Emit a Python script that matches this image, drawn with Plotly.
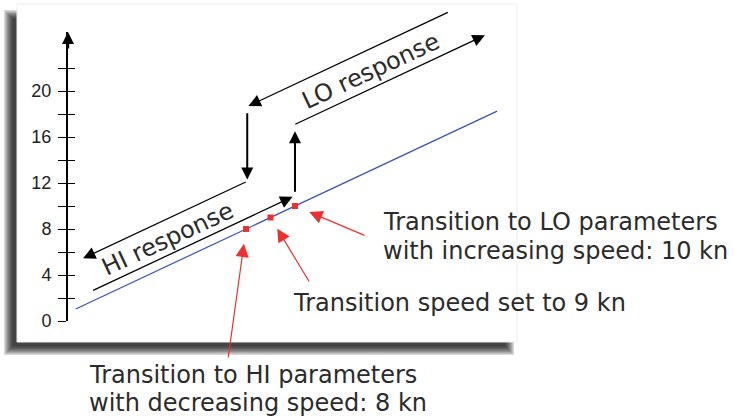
import plotly.graph_objects as go

# axis ticks (every 2, labelled every 4)
tick_vals = [0, 2, 4, 6, 8, 10, 12, 14, 16, 18, 20, 22]
tick_text = ["0", "", "4", "", "8", "", "12", "", "16", "", "20", ""]

# speed line (set speed = actual speed)
line_x = [1.05, 18.25]
line_y = [1.05, 18.25]

# transition points
trans_x = [8, 9, 10]
trans_y = [8, 9, 10]

# hysteresis arrows: (tail_x, tail_y, tip_x, tip_y)
diag_arrows = [
    (8.05, 12.15, 1.35, 5.45),    # HI response, decreasing
    (1.7, 2.6, 9.9, 10.8),        # HI response, increasing
    (16.3, 26.9, 8.1, 18.7),      # LO response, decreasing
    (9.95, 17.05, 17.75, 24.85),  # LO response, increasing
]
vert_arrows = [
    (8.05, 18.2, 8.05, 12.3),
    (10.0, 11.1, 10.0, 16.5),
]

# callouts: point index, tail offset (px), standoff, text lines, text left (px), line centres (px)
callouts = [
    (2, 71, 30, 15.5, ["Transition to LO parameters", "with increasing speed: 10 kn"], 381, [222, 251]),
    (1, 39.5, 65.5, 13, ["Transition speed set to 9 kn"], 291, [303]),
    (0, -18, 130, 15, ["Transition to HI parameters", "with decreasing speed: 8 kn"], 87, [375, 403]),
]

W, H = 736, 418
L, R, T, B = 68, 216, 32, 97
PW, PH = W - L - R, H - T - B


def px(x):
    return (x - L) / PW


def py(y):
    return (H - B - y) / PH


fig = go.Figure()

fig.add_trace(go.Scatter(x=line_x, y=line_y, mode="lines",
                         line=dict(color="#3a52b2", width=1.2), hoverinfo="skip"))
fig.add_trace(go.Scatter(x=trans_x, y=trans_y, mode="markers",
                         marker=dict(symbol="square", size=6, color="#ee3030"),
                         hoverinfo="skip"))
# dummy trace so the inner tick axis gets drawn
fig.add_trace(go.Scatter(x=[None], y=[None], yaxis="y2", hoverinfo="skip"))

shapes = []
# blurred drop shadow behind the panel
for i in range(8):
    d = 1.2 * i
    shapes.append(dict(type="rect", xref="paper", yref="paper", layer="below",
                       x0=px(4 + d), x1=px(514 - d), y0=py(10 + d), y1=py(355 - d),
                       fillcolor="black", opacity=0.15, line_width=0))
shapes.append(dict(type="rect", xref="paper", yref="paper", layer="below",
                   x0=px(17), x1=px(517), y0=py(4), y1=py(342),
                   fillcolor="white", line=dict(color="#eeeeee", width=1)))

ann = []
# y axis arrow head
ann.append(dict(xref="paper", yref="paper", x=0, y=1, ax=0, ay=18, text="",
                showarrow=True, arrowhead=2, arrowsize=1.0, arrowwidth=2.4,
                arrowcolor="black"))
for tx, ty, hx, hy in diag_arrows:
    ann.append(dict(x=hx, y=hy, ax=tx, ay=ty, xref="x", yref="y", axref="x", ayref="y",
                    text="", showarrow=True, arrowhead=2, arrowsize=1.9,
                    arrowwidth=1.3, arrowcolor="black"))
for tx, ty, hx, hy in vert_arrows:
    ann.append(dict(x=hx, y=hy, ax=tx, ay=ty, xref="x", yref="y", axref="x", ayref="y",
                    text="", showarrow=True, arrowhead=2, arrowsize=1.2,
                    arrowwidth=2, arrowcolor="black"))

ann.append(dict(x=4.8, y=7.1, xref="x", yref="y", text="HI response", showarrow=False,
                textangle=-25, font=dict(family="DejaVu Sans", size=24, color="#2b2b2b")))
ann.append(dict(x=13.1, y=21.7, xref="x", yref="y", text="LO response", showarrow=False,
                textangle=-25, font=dict(family="DejaVu Sans", size=24, color="#2b2b2b")))

for idx, ax_, ay_, so, lines, tx, tys in callouts:
    ann.append(dict(x=trans_x[idx], y=trans_y[idx], xref="x", yref="y",
                    ax=ax_, ay=ay_, text="", showarrow=True, arrowhead=2,
                    arrowsize=2.2, arrowwidth=1.2, arrowcolor="#ee3030", standoff=so))
    for txt, ty in zip(lines, tys):
        ann.append(dict(x=px(tx), y=py(ty), xref="paper", yref="paper", text=txt,
                        showarrow=False, xanchor="left", yanchor="middle",
                        font=dict(family="DejaVu Sans", size=24, color="#2b2b2b")))

fig.update_layout(
    width=W, height=H,
    margin=dict(l=L, r=R, t=T, b=B),
    paper_bgcolor="white",
    plot_bgcolor="rgba(0,0,0,0)",
    showlegend=False,
    shapes=shapes,
    annotations=ann,
    xaxis=dict(range=[(L - 50) / 24.5, (W - R - 50) / 24.5], visible=False, fixedrange=True),
    yaxis=dict(range=[0, PH / 11.5], tickvals=tick_vals, ticktext=tick_text,
               ticks="outside", ticklen=8, tickwidth=1.2, tickcolor="black",
               showline=True, linecolor="black", linewidth=2, showgrid=False,
               zeroline=False, ticklabelstandoff=3,
               tickfont=dict(family="Liberation Sans", size=18, color="#222222")),
    yaxis2=dict(range=[0, PH / 11.5], overlaying="y", side="left", anchor="x",
                tickvals=tick_vals, ticktext=[""] * len(tick_vals),
                ticks="inside", ticklen=7, tickwidth=1.2, tickcolor="black",
                showline=False, showgrid=False, zeroline=False),
)

# page body has a default 8px margin; drop it so the figure fills the window
fig.write_html("out.html", config={"displayModeBar": False},
               post_script="document.body.style.margin='0';")
